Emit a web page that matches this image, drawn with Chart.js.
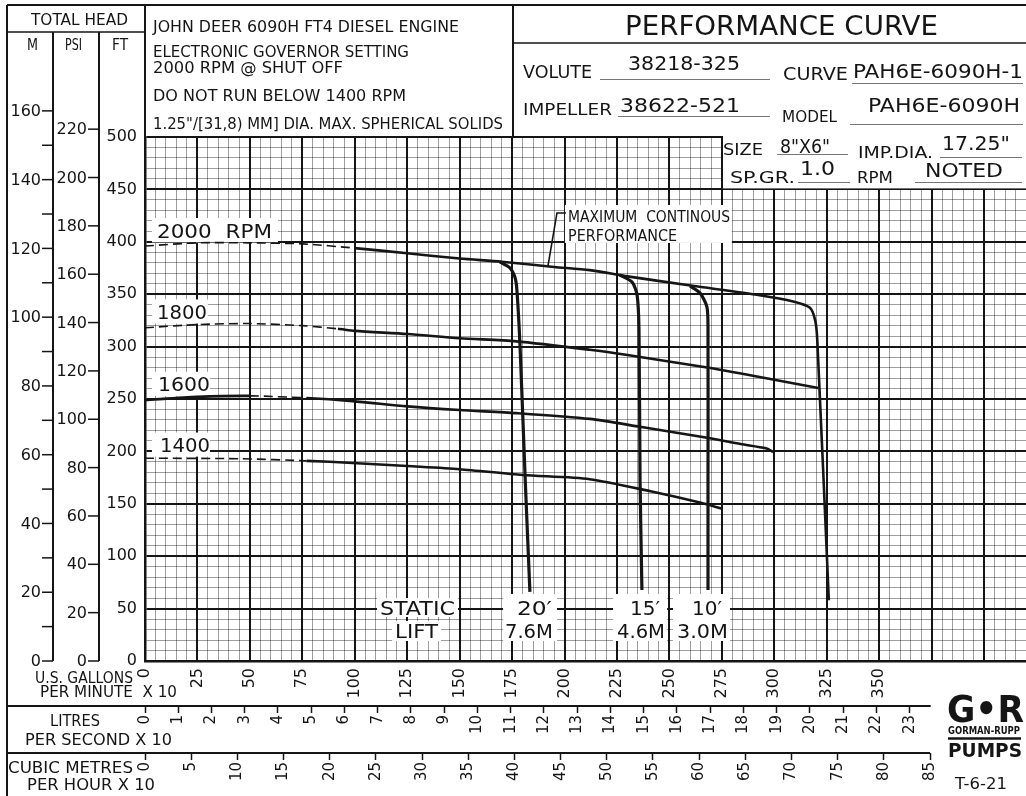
<!DOCTYPE html>
<html>
<head>
<meta charset="utf-8">
<title>PAH6E-6090H performance curve</title>
<script src="https://cdn.jsdelivr.net/npm/chart.js@4.4.1/dist/chart.umd.min.js"></script>
<style>
  html, body { margin: 0; padding: 0; background: #fff; }
  canvas { display: block; }
</style>
</head>
<body>
<canvas id="pumpChart" width="1026" height="796"></canvas>
<script>
// flow is U.S. GPM x 10, head is feet
const flow2000 = [0, 25, 50, 75, 100, 125, 150, 170, 195, 212, 230, 261, 293, 309, 317, 319.5, 320.5, 326];
const head2000 = [396, 399, 399, 398, 394, 389, 384, 381, 376, 373, 367, 358, 349, 343, 337, 325, 306, 58];

const flow1800 = [0, 25, 50, 75, 92, 100, 125, 150, 177, 212, 230, 268, 293, 321];
const head1800 = [318, 321, 322, 320, 317, 315, 312, 308, 305, 297, 292, 280, 271, 260.5];

const flow1600 = [0, 25, 50, 77, 99, 125, 150, 177, 212, 236, 268, 284, 296, 299.5];
const head1600 = [249, 252, 253, 251, 248, 243, 239.5, 236.5, 231, 223.5, 213, 207, 203, 199.5];

const flow1400 = [0, 45, 77, 99, 125, 150, 180, 212, 241, 265, 275.5];
const head1400 = [193.5, 193, 191, 189, 186, 183, 177.5, 173.5, 162, 151, 145];

// static lift limits
const lift20Flow = [169, 174, 176.4, 177.3, 178.8, 181.2, 183.5];
const lift20Head = [381, 375, 366, 354, 300, 176, 66];
const lift15Flow = [226.4, 232.2, 234.6, 235.5, 236, 236.9];
const lift15Head = [368.3, 361.6, 349.2, 315.8, 172.7, 67.7];
const lift10Flow = [259.8, 264.6, 267.9, 268.4, 268.4, 268.4];
const lift10Head = [357.8, 351.1, 337.8, 315.8, 172.7, 67.7];

// tick labels
const gpmLabelMax = 350;
const lpsLabelMax = 23;
const m3hLabelMax = 85;
const mTicks = [0, 20, 40, 60, 80, 100, 120, 140, 160];
const psiTicks = [0, 20, 40, 60, 80, 100, 120, 140, 160, 180, 200, 220];

const X_MAX = 420, Y_MAX = 500;
const LPS = 15.85;      // gpm x10 units per (l/s x10)
const M3H = 4.403;      // gpm x10 units per (m3/h x10)
const FT_PER_M = 3.2808, FT_PER_PSI = 2.3067;

const FONT = '"DejaVu Sans", "Liberation Sans", sans-serif';
const INK = '#151515';

function txt(c, s, x, y, size, w, bold) {
    c.save();
    c.font = (bold ? 'bold ' : '') + size + 'px ' + FONT;
    c.textAlign = 'left';
    c.textBaseline = 'alphabetic';
    c.fillStyle = INK;
    const m = c.measureText(s).width;
    c.translate(x, y);
    if (w) c.scale(w / m, 1);
    c.fillText(s, 0, 0);
    c.restore();
}

function line(c, pts, w) {
    c.save();
    c.strokeStyle = INK;
    c.lineWidth = w || 1.5;
    c.beginPath();
    c.moveTo(pts[0][0], pts[0][1]);
    for (let i = 1; i < pts.length; i++) c.lineTo(pts[i][0], pts[i][1]);
    c.stroke();
    c.restore();
}

function curve(flows, heads, width, dashFrom, dashTo) {
    return {
        data: flows.map((f, i) => ({ x: f, y: heads[i] })),
        borderColor: INK,
        borderWidth: width,
        pointRadius: 0,
        tension: 0.25,
        fill: false,
        segment: {
            borderDash: ctx => (ctx.p0.parsed.x >= dashFrom && ctx.p1.parsed.x <= dashTo) ? [9, 5] : undefined,
            borderWidth: ctx => (ctx.p0.parsed.x >= dashFrom && ctx.p1.parsed.x <= dashTo) ? 1.6 : undefined
        }
    };
}

// labels inside the plot: [text, flow, head, size, width]
const plotLabels = [
    ['2000  RPM', 5.7, 403.6, 20, 115],
    ['1800', 5.7, 326.3, 20, 50],
    ['1600', 6.2, 257.6, 20, 52],
    ['1400', 7.2, 199.4, 20, 50],
    ['MAXIMUM  CONTINOUS', 201.7, 418.9, 15, 162],
    ['PERFORMANCE', 201.7, 400.8, 15, 109],
    ['STATIC', 112, 43.9, 20, 75],
    ['LIFT', 119.2, 21.9, 20, 43],
    ['20\u2032', 177.3, 43.9, 20, 35],
    ['7.6M', 171.6, 21.9, 20, 48],
    ['15\u2032', 231.2, 43.9, 20, 30],
    ['4.6M', 225, 21.9, 20, 48],
    ['10\u2032', 260.8, 43.9, 20, 30],
    ['3.0M', 253.6, 21.9, 20, 51]
];
// white patches behind them: [flow0, flow1, head0, head1]
const plotPatches = [
    [3.3, 63.4, 422.7, 399.5],
    [3.3, 30, 345, 322],
    [3.3, 31, 276, 253],
    [3.3, 31, 218, 195],
    [200.2, 279.8, 435.1, 398.9],
    [110.6, 149.2, 60.1, 42],
    [117.8, 141.1, 38.2, 19.1],
    [170.7, 196.4, 63.9, 19.1],
    [223.1, 248.9, 63.9, 19.1],
    [251.7, 278.9, 63.9, 19.1]
];
const leader = [[192.1, 376.9], [196.4, 427.5], [200.7, 427.5]];

const headerText = [
    ['TOTAL HEAD', 31, 25, 16, 97],
    ['M', 27, 50, 15, 11],
    ['PSI', 65, 50, 15, 17],
    ['FT', 112, 50, 15, 16],
    ['JOHN DEER 6090H FT4 DIESEL ENGINE', 153, 32, 16, 306],
    ['ELECTRONIC GOVERNOR SETTING', 153, 57, 16, 256],
    ['2000 RPM @ SHUT OFF', 153, 73, 16, 190],
    ['DO NOT RUN BELOW 1400 RPM', 153, 101, 16, 253],
    ['1.25"/[31,8) MM] DIA. MAX. SPHERICAL SOLIDS', 153, 129, 16, 350],
    ['PERFORMANCE CURVE', 625, 35, 27, 313],
    ['VOLUTE', 523, 78, 17, 69],
    ['38218-325', 628, 70, 20, 112],
    ['CURVE', 783, 80, 17, 65],
    ['PAH6E-6090H-1', 853, 78, 20, 170],
    ['IMPELLER', 523, 115, 16, 89],
    ['38622-521', 620, 112, 20, 120],
    ['MODEL', 782, 122, 16, 55],
    ['PAH6E-6090H', 868, 112, 20, 152],
    ['SIZE', 723, 155, 16, 40],
    ['8"X6"', 780, 153, 19, 50],
    ['IMP.DIA.', 858, 158, 16, 75],
    ['17.25"', 942, 150, 19, 68],
    ['SP.GR.', 730, 183, 16, 65],
    ['1.0', 800, 175, 19, 35],
    ['RPM', 857, 183, 16, 36],
    ['NOTED', 925, 177, 19, 78],
    ['U.S. GALLONS', 35, 683, 15, 98],
    ['PER MINUTE  X 10', 40, 697, 15, 137],
    ['LITRES', 50, 726, 15, 50],
    ['PER SECOND X 10', 25, 745, 15, 147],
    ['CUBIC METRES', 8, 773, 15, 125],
    ['PER HOUR X 10', 27, 790, 15, 128],
    ['T-6-21', 955, 789, 15, 52]
];
// underlines: [x0, x1, y]
const underlines = [
    [600, 770, 79], [852, 1023, 83], [618, 770, 116], [850, 1023, 124],
    [777, 848, 154], [940, 1022, 157], [798, 850, 182], [915, 1022, 182]
];

const sheet = {
    id: 'sheet',
    beforeDraw(chart) {
        const c = chart.ctx;
        c.save();
        c.fillStyle = '#fff';
        c.fillRect(0, 0, chart.width, chart.height);
        c.restore();
    },
    beforeDatasetsDraw(chart) {
        const c = chart.ctx, xs = chart.scales.x, ys = chart.scales.y;
        c.save();
        c.fillStyle = '#fff';
        plotPatches.forEach(p => {
            const x0 = xs.getPixelForValue(p[0]), x1 = xs.getPixelForValue(p[1]);
            const y0 = ys.getPixelForValue(p[2]), y1 = ys.getPixelForValue(p[3]);
            c.fillRect(x0, y0, x1 - x0, y1 - y0);
        });
        c.restore();
        plotLabels.forEach(l => txt(c, l[0], xs.getPixelForValue(l[1]), ys.getPixelForValue(l[2]), l[3], l[4]));
        line(c, leader.map(p => [xs.getPixelForValue(p[0]), ys.getPixelForValue(p[1])]), 1.6);
    },
    afterDraw(chart) {
        const c = chart.ctx, xs = chart.scales.x, ys = chart.scales.y;
        const W = chart.width;

        // spec box over the top right of the grid
        const y450 = ys.getPixelForValue(450);
        c.save();
        c.fillStyle = '#fff';
        c.fillRect(723, chart.chartArea.top - 1, W - 723, y450 - chart.chartArea.top);
        c.restore();
        line(c, [[722, chart.chartArea.top], [722, y450]], 2);

        // frame
        line(c, [[7, 5], [W, 5]], 2);
        line(c, [[7, 5], [7, 796]], 2);
        line(c, [[7, 32], [145, 32]], 1.5);
        line(c, [[145, 5], [145, chart.chartArea.top]], 2);
        line(c, [[513, 5], [513, chart.chartArea.top]], 2);
        line(c, [[513, 43], [W, 43]], 1.5);
        line(c, [[53, 32], [53, ys.getPixelForValue(0)]], 2);
        line(c, [[99, 32], [99, ys.getPixelForValue(0)]], 2);
        line(c, [[7, 706], [xs.getPixelForValue(lpsLabelMax * LPS + 10), 706]], 2);
        line(c, [[7, 753], [xs.getPixelForValue(m3hLabelMax * M3H), 753]], 2);

        c.save();
        c.strokeStyle = '#777';
        c.lineWidth = 1;
        underlines.forEach(u => { c.beginPath(); c.moveTo(u[0], u[2] + 0.5); c.lineTo(u[1], u[2] + 0.5); c.stroke(); });
        c.restore();

        headerText.forEach(t => txt(c, t[0], t[1], t[2], t[3], t[4]));

        // metres and psi scales, placed through the feet scale
        c.save();
        c.font = '16px ' + FONT;
        c.fillStyle = INK;
        c.textAlign = 'right';
        c.textBaseline = 'middle';
        mTicks.forEach((m, i) => {
            const y = ys.getPixelForValue(m * FT_PER_M);
            line(c, [[42, y], [53, y]], 1.5);
            c.fillText(String(m), 41, y + 1);
            if (i < mTicks.length - 1) {
                const y2 = ys.getPixelForValue((m + 10) * FT_PER_M);
                line(c, [[42, y2], [53, y2]], 1.5);
            }
        });
        psiTicks.forEach(p => {
            const y = ys.getPixelForValue(p * FT_PER_PSI);
            line(c, [[88, y], [99, y]], 1.5);
            c.fillText(String(p), 87, y + 1);
        });
        c.restore();

        // Gorman-Rupp logo
        txt(c, 'G\u2022R', 947, 722, 38, 77, true);
        txt(c, 'GORMAN-RUPP', 948, 734, 11, 72, true);
        line(c, [[948, 738.5], [1021, 738.5]], 2.5);
        txt(c, 'PUMPS', 948, 757, 19, 74, true);
    }
};

const ctx = document.getElementById('pumpChart');

new Chart(ctx, {
    type: 'line',
    data: {
        datasets: [
            curve(flow2000, head2000, 2.6, 0, 100),
            curve(flow1800, head1800, 2.6, 0, 92),
            curve(flow1600, head1600, 2.6, 50, 77),
            curve(flow1400, head1400, 2.6, 0, 77),
            curve(lift20Flow, lift20Head, 3.2, -1, -1),
            curve(lift15Flow, lift15Head, 3.2, -1, -1),
            curve(lift10Flow, lift10Head, 3.2, -1, -1)
        ]
    },
    options: {
        responsive: false,
        animation: false,
        devicePixelRatio: 1,
        events: [],
        layout: { padding: { top: 137, left: 0, right: 0, bottom: 0 } },
        plugins: { legend: { display: false }, tooltip: { enabled: false } },
        scales: {
            x: {
                type: 'linear', position: 'bottom', weight: 0,
                min: 0, max: X_MAX,
                ticks: {
                    stepSize: 5, autoSkip: false, minRotation: 90, maxRotation: 90, padding: 7,
                    color: INK, font: { family: FONT, size: 16 },
                    callback: v => (v % 25 === 0 && v <= gpmLabelMax) ? String(v) : ''
                },
                grid: {
                    drawTicks: false,
                    color: c => c.tick && c.tick.value % 25 === 0 ? INK : 'rgba(0,0,0,0.38)',
                    lineWidth: c => c.tick && c.tick.value % 25 === 0 ? 2 : 1
                },
                border: { color: INK, width: 2.5 },
                afterFit: s => { s.height = 45; s.paddingLeft = 0; s.paddingRight = 0; }
            },
            xl: {
                type: 'linear', position: 'bottom', weight: 1,
                min: 0, max: X_MAX / LPS,
                ticks: {
                    stepSize: 1, autoSkip: false, minRotation: 90, maxRotation: 90, padding: 2,
                    color: INK, font: { family: FONT, size: 15 },
                    callback: v => v <= lpsLabelMax ? String(v) : ''
                },
                grid: {
                    drawOnChartArea: false, drawTicks: true, tickLength: 7, tickWidth: 1.5,
                    tickColor: c => c.tick && c.tick.value <= lpsLabelMax ? INK : 'rgba(0,0,0,0)'
                },
                border: { display: false },
                afterFit: s => { s.height = 47; s.paddingLeft = 0; s.paddingRight = 0; }
            },
            xm: {
                type: 'linear', position: 'bottom', weight: 2,
                min: 0, max: X_MAX / M3H,
                ticks: {
                    stepSize: 5, autoSkip: false, minRotation: 90, maxRotation: 90, padding: 2,
                    color: INK, font: { family: FONT, size: 15 },
                    callback: v => v <= m3hLabelMax ? String(v) : ''
                },
                grid: {
                    drawOnChartArea: false, drawTicks: true, tickLength: 7, tickWidth: 1.5,
                    tickColor: c => c.tick && c.tick.value <= m3hLabelMax ? INK : 'rgba(0,0,0,0)'
                },
                border: { display: false },
                afterFit: s => { s.height = 43; s.paddingLeft = 0; s.paddingRight = 0; }
            },
            y: {
                type: 'linear', position: 'left',
                min: 0, max: Y_MAX,
                ticks: {
                    stepSize: 10, autoSkip: false, padding: 8,
                    color: INK, font: { family: FONT, size: 16 },
                    callback: v => v % 50 === 0 ? String(v) : ''
                },
                grid: {
                    drawTicks: false,
                    color: c => c.tick && c.tick.value % 50 === 0 ? INK : 'rgba(0,0,0,0.38)',
                    lineWidth: c => c.tick && c.tick.value % 50 === 0 ? 2 : 1
                },
                border: { color: INK, width: 2.5 },
                afterFit: s => { s.width = 145; }
            }
        }
    },
    plugins: [sheet]
});
</script>
</body>
</html>
